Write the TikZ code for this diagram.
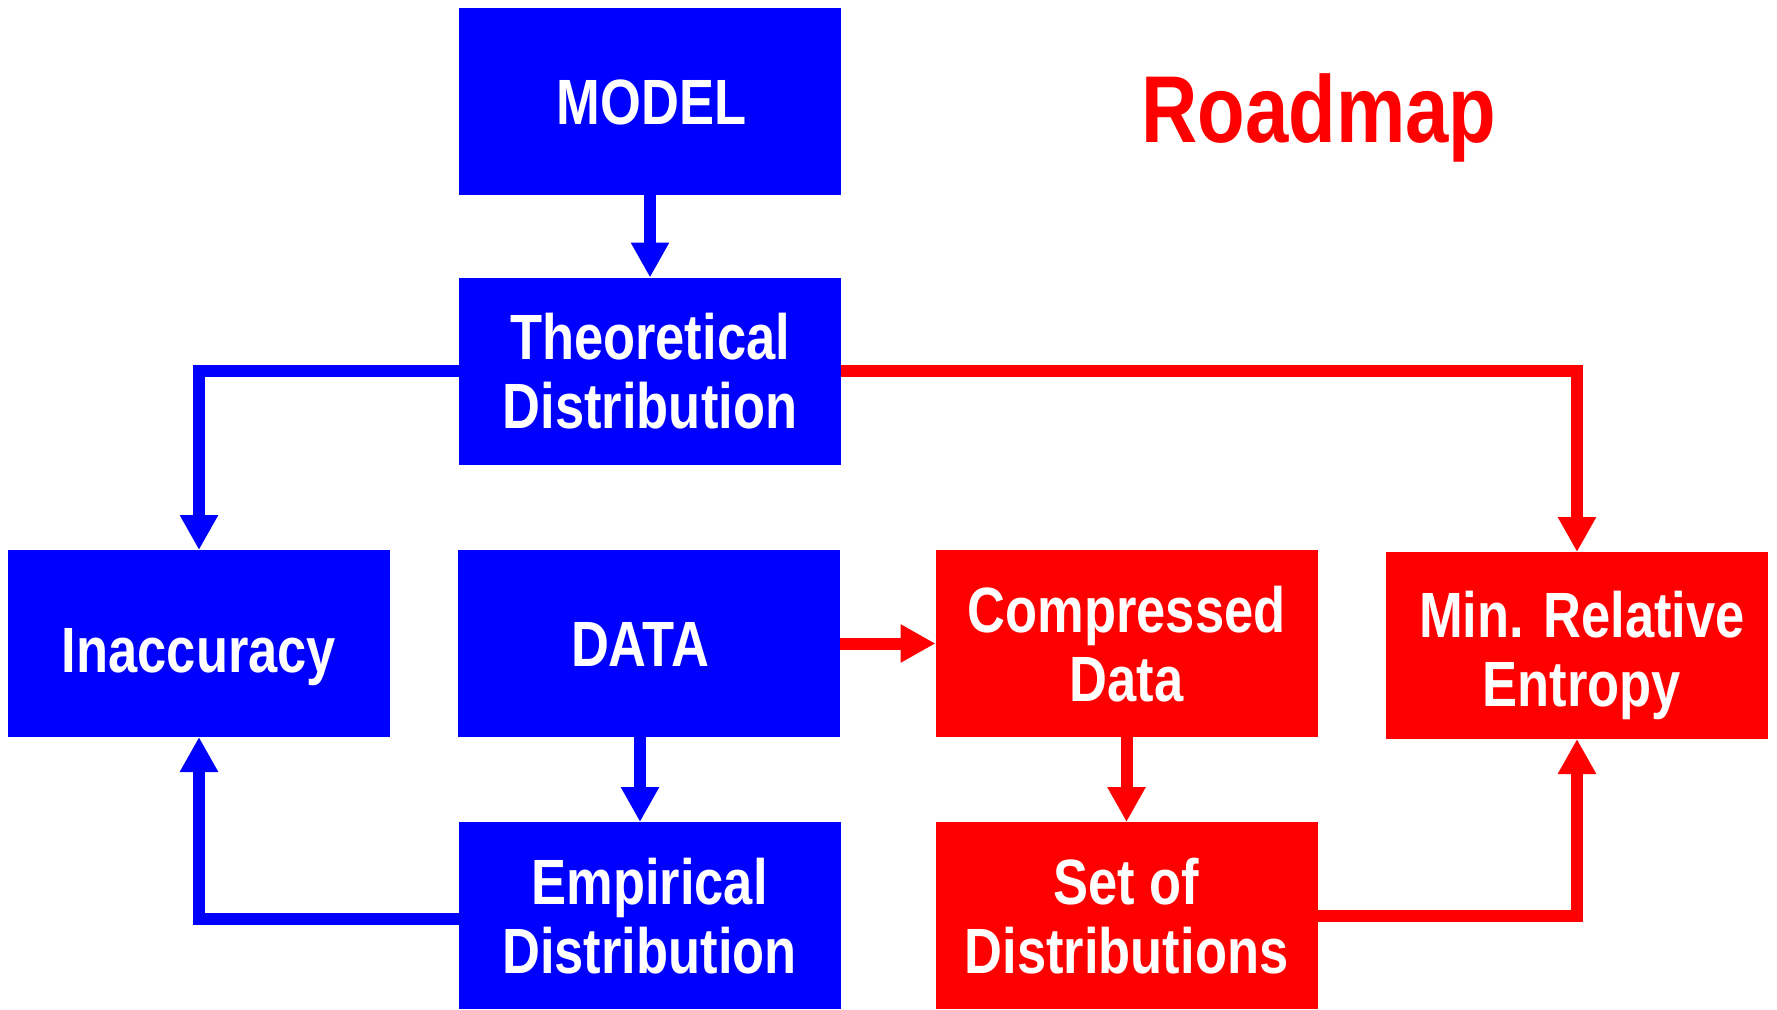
\documentclass[tikz,border=0pt]{standalone}
\usepackage{fontspec}
\newfontfamily\narrowfont{Liberation Sans}[FakeStretch=0.82]
\usetikzlibrary{arrows.meta}
\definecolor{pblue}{RGB}{0,0,255}
\definecolor{pred}{RGB}{255,0,0}
\newcommand\onel[2][0pt]{\raisebox{#1}[46pt][0pt]{#2}}
\newcommand\twol[3][0pt]{\raisebox{#1}[115pt][0pt]{\vbox{\baselineskip=69pt\halign{\hfil##\hfil\cr#2\cr#3\cr}}}}
\begin{document}
\begin{tikzpicture}[x=1pt,y=-1pt,
  basebox/.style={rectangle, minimum width=382pt, minimum height=187pt, inner sep=0pt, outer sep=0pt, text=white, font=\narrowfont\bfseries\fontsize{64}{69}\selectfont},
  bluebox/.style={basebox, fill=pblue},
  redbox/.style={basebox, fill=pred},
  conn/.style={line width=12pt, -{Triangle[length=35pt,width=36pt]}, line join=miter},
  bconn/.style={conn, draw=pblue},
  rconn/.style={conn, draw=pred}]
\useasboundingbox[fill=white] (0,0) rectangle (1777,1009);

\node[bluebox] (model) at (650,101) {\onel{MODEL}\hspace*{-3pt}};
\node[bluebox] (theo) at (650,371) {\twol{Theoretical}{Distribution}};
\node[bluebox] (inacc) at (199,643.5) {\onel[-6pt]{Inaccuracy}};
\node[bluebox] (data) at (649,643.5) {\onel{DATA}\hspace*{18pt}};
\node[bluebox] (emp) at (649.5,915.5) {\twol{Empirical}{Distribution}};
\node[redbox] (comp) at (1126.5,643.5) {\twol{Compressed}{Data}};
\node[redbox] (minrel) at (1577,645.5) {\hspace*{10pt}\twol[-3pt]{Min. Relative}{Entropy}};
\node[redbox] (setd) at (1126.5,915.5) {\twol{Set of}{Distributions}};

\node[text=pred, font=\narrowfont\bfseries\fontsize{95}{100}\selectfont, anchor=base, inner sep=0pt] (title) at (1319,142) {Roadmap};

\draw[bconn] (model.south) -- (theo.north);
\draw[bconn] (theo.west) -| (inacc.north);
\draw[bconn] ([yshift=-3pt]emp.west) -| (inacc.south);
\draw[bconn] ([xshift=-9pt]data.south) -- ([xshift=-9pt]data.south |- emp.north);
\draw[rconn] (theo.east) -| (minrel.north);
\draw[rconn] (data.east) -- (comp.west);
\draw[rconn] (comp.south) -- (setd.north);
\draw[rconn] (setd.east) -| (minrel.south);
\end{tikzpicture}
\end{document}
